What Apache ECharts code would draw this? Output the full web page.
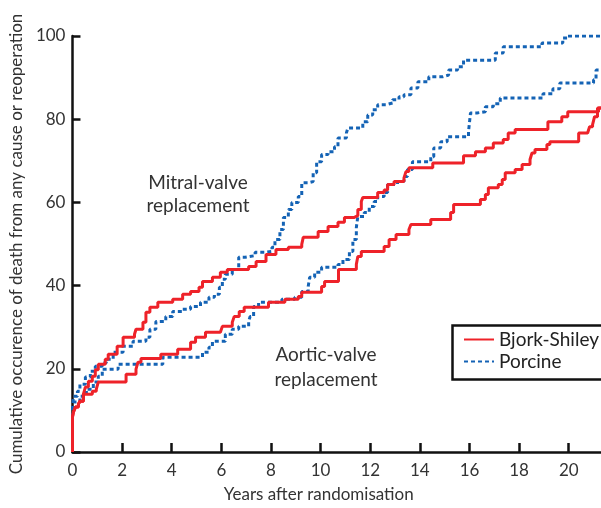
<!DOCTYPE html>
<html>
<head>
<meta charset="utf-8">
<script src="https://cdn.jsdelivr.net/npm/echarts@6/dist/echarts.min.js"></script>
<style>
html,body{margin:0;padding:0;background:#fff;}
#chart{width:601px;height:508px;}
</style>
</head>
<body>
<div id="chart"></div>
<script>
// [years, cumulative %] at each step (value after the jump)
var mitralBjork = [[0,0],[0,8.4],[0.04,9.6],[0.12,10.8],[0.24,11.5],[0.3,12.2],[0.44,13.9],[0.52,15.6],[0.64,17],[0.8,18.2],[0.92,19.8],[1.04,21.1],[1.32,22.3],[1.44,23.5],[1.8,25.4],[2.04,27.6],[2.5,28.3],[2.56,29.5],[2.84,31.2],[2.96,33.6],[3.12,34.8],[3.44,36],[4.04,36.7],[4.44,37.9],[4.76,38.6],[5.1,39.6],[5.24,41],[5.64,42],[5.96,43.2],[6.24,43.9],[7.1,44.6],[7.4,45.8],[7.8,47.5],[8.2,48.7],[8.7,49.2],[9.24,49.9],[9.3,51.6],[9.9,53],[10.3,54.2],[10.7,55.2],[10.96,56.4],[11.36,56.8],[11.5,58.3],[11.64,60.2],[11.7,61.2],[12.3,62.4],[12.56,63],[12.7,64.3],[12.96,65],[13.36,65.9],[13.44,67.4],[13.56,68.3],[14.52,69.5],[15.76,71.2],[16.24,72.2],[16.64,73.1],[16.96,74.3],[17.36,75.1],[17.56,76.7],[17.84,77.5],[19.16,79.4],[19.72,80.6],[19.96,81.8],[21.2,82.7],[21.4,82.7]];
var mitralPorcine = [[0,0],[0,10],[0.04,13.4],[0.2,14.6],[0.3,16.3],[0.52,18],[0.72,19.4],[0.92,20.6],[1.2,21.4],[1.36,22.3],[1.64,24],[2.04,25.4],[2.44,26.6],[2.96,27.6],[3.12,29.5],[3.36,31.4],[3.76,32.6],[4.04,33.8],[4.44,34.3],[4.76,35],[5.16,36],[5.5,37.2],[5.72,37.9],[5.92,39.6],[6.04,41.5],[6.16,42.7],[6.44,43.9],[6.7,46.8],[6.96,47.2],[7.36,48],[7.76,48.2],[8.04,49.2],[8.16,51.1],[8.36,53.5],[8.5,56.4],[8.7,58.3],[8.84,60],[9.1,61.4],[9.24,64.7],[9.5,65],[9.7,67.1],[9.84,69.8],[10.04,71.5],[10.3,72.2],[10.56,73.4],[10.7,75.5],[11.04,76.7],[11.1,77.9],[11.7,79.4],[11.9,81],[12.1,82.3],[12.3,83.5],[12.64,83.9],[12.9,84.7],[13.16,85.4],[13.36,85.9],[13.64,87.5],[13.92,89],[14.36,90.2],[14.92,90.6],[15.16,91.8],[15.52,92.6],[15.76,94.2],[17.04,95.9],[17.36,97.4],[18.92,98.3],[19.76,99.5],[19.96,100],[21.4,100]];
var aorticBjork = [[0,0],[0,8.4],[0.04,9.6],[0.12,10.8],[0.24,11.5],[0.3,12.2],[0.44,13.9],[0.8,14.6],[0.96,15.1],[1.04,16.8],[2.16,18.7],[2.56,19.9],[2.64,21.6],[2.76,22.5],[3.56,23.5],[4.24,24.7],[4.76,26.4],[4.96,27.6],[5.36,28.8],[5.96,29.2],[6.04,30.2],[6.44,31.2],[6.52,32.6],[6.72,33.8],[6.92,34.8],[7.9,36],[8.56,36.7],[9.1,37.4],[9.24,38.4],[10.04,39.8],[10.16,41],[10.72,43.9],[11.44,45.1],[11.5,47],[11.64,48.2],[12.56,49.4],[12.76,51.1],[13.04,52.3],[13.56,53.5],[13.64,54.7],[14.44,55.9],[15.24,57.6],[15.36,59.5],[16.44,60.7],[16.64,61.9],[16.76,63.5],[17.16,64.3],[17.32,65.5],[17.44,67.1],[17.84,67.9],[18.12,69.1],[18.44,70.3],[18.52,71.9],[18.64,72.7],[19.12,73.9],[19.24,74.6],[20.4,76.7],[20.76,77],[20.84,78.2],[20.96,78.7],[21.04,80.6],[21.16,82.7],[21.4,82.7]];
var aorticPorcine = [[0,0],[0,10],[0.04,12],[0.3,13.4],[0.56,15.1],[0.84,16.8],[1.04,18.2],[1.2,19.9],[1.84,21.1],[3.64,22.8],[5.24,24],[5.5,25.2],[5.64,26.6],[6.16,28.3],[6.44,29.5],[6.7,30.2],[7.1,31.4],[7.16,32.6],[7.3,35],[7.5,36],[8.44,36.7],[8.96,37.2],[9.24,38.6],[9.5,39.8],[9.56,42],[9.76,43.2],[10.04,44.4],[10.7,45.1],[10.9,46.3],[11.16,48.2],[11.3,51.1],[11.44,54],[11.5,56.6],[11.76,57.6],[11.96,59],[12.16,60.2],[12.3,61.4],[12.56,62.4],[12.7,64.3],[13.1,65],[13.36,66.2],[13.5,67.9],[13.7,69.8],[14.44,71],[14.56,73.1],[14.84,74.6],[15.1,75.8],[15.96,77],[16.04,81.5],[16.3,81.8],[16.64,83],[16.96,83.7],[17.24,85.1],[18.96,86.1],[19.36,87.3],[19.64,88.7],[21.0,89.5],[21.1,91.8],[21.4,91.8]];

var seriesNames = ['Bjork-Shiley', 'Porcine'];
var xAxisTitle = 'Years after randomisation';
var yAxisTitle = 'Cumulative occurence of death from any cause or reoperation';
var annotations = ['Mitral-valve\nreplacement', 'Aortic-valve\nreplacement'];

var RED = '#ee2229', BLUE = '#1463b5';
var FONT = 'Lato, "Open Sans", sans-serif';
var redStyle = {color: RED, width: 3};
var blueStyle = {color: BLUE, width: 3, type: [4, 3]};

var chart = echarts.init(document.getElementById('chart'), null, {renderer: 'canvas'});
chart.setOption({
  animation: false,
  grid: {left: 69, right: 0, top: 36, bottom: 55},
  xAxis: {
    type: 'value', min: 0, max: 21.3, interval: 2,
    name: xAxisTitle, nameLocation: 'middle', nameGap: 34,
    nameTextStyle: {fontFamily: FONT, fontSize: 17, color: '#333', padding: [0, 36, 0, 0]},
    axisLine: {lineStyle: {color: '#111', width: 2.5}},
    axisTick: {inside: true, length: 9, lineStyle: {color: '#111', width: 2.5}},
    axisLabel: {showMaxLabel: false, fontFamily: FONT, fontSize: 17, color: '#333', margin: 10},
    splitLine: {show: false}
  },
  yAxis: {
    type: 'value', min: 0, max: 100, interval: 20,
    name: yAxisTitle, nameLocation: 'middle', nameGap: 43,
    nameTextStyle: {fontFamily: FONT, fontSize: 17, color: '#333'},
    axisLine: {show: true, lineStyle: {color: '#111', width: 2.5}},
    axisTick: {show: true, inside: true, length: 8, lineStyle: {color: '#111', width: 2.5}},
    axisLabel: {fontFamily: FONT, fontSize: 17, color: '#333', margin: 7, padding: [0, 0, 9, 0]},
    splitLine: {show: false}
  },
  legend: {
    orient: 'vertical', left: 458, top: 325, itemWidth: 30, itemHeight: 10, itemGap: 3,
    data: seriesNames,
    itemStyle: {opacity: 0},
    textStyle: {fontFamily: FONT, fontSize: 19, color: '#222'}
  },
  graphic: [
    {type: 'rect', left: 450, top: 323, shape: {width: 160, height: 54}, style: {fill: 'none', stroke: '#111', lineWidth: 2.5}, z: 10},
    {type: 'text', x: 198, y: 194, style: {text: annotations[0], fontFamily: FONT, fontSize: 19, fill: '#333', align: 'center', verticalAlign: 'middle', lineHeight: 23}},
    {type: 'text', x: 326, y: 367, style: {text: annotations[1], fontFamily: FONT, fontSize: 19, fill: '#333', align: 'center', verticalAlign: 'middle', lineHeight: 25}}
  ],
  series: [
    {name: seriesNames[0], type: 'line', step: 'end', symbol: 'none', data: mitralBjork, lineStyle: redStyle, itemStyle: {color: RED}, z: 3},
    {name: seriesNames[1], type: 'line', step: 'end', symbol: 'none', data: mitralPorcine, lineStyle: blueStyle, itemStyle: {color: BLUE}, z: 2},
    {name: seriesNames[0], type: 'line', step: 'end', symbol: 'none', data: aorticBjork, lineStyle: redStyle, itemStyle: {color: RED}, z: 3},
    {name: seriesNames[1], type: 'line', step: 'end', symbol: 'none', data: aorticPorcine, lineStyle: blueStyle, itemStyle: {color: BLUE}, z: 2}
  ]
});
</script>
</body>
</html>
